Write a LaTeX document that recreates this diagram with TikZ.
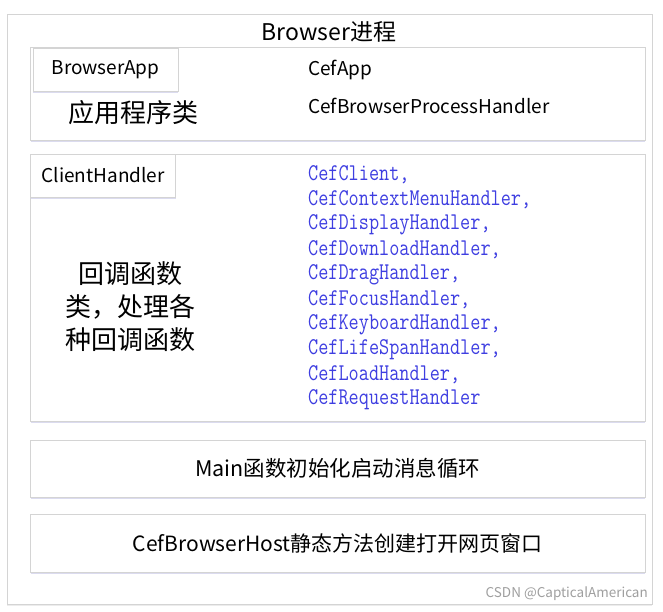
\documentclass[tikz,border=0pt]{standalone}
\usepackage{fontspec}
\setmainfont{Noto Sans CJK SC}
\newfontfamily\codefont{Latin Modern Mono}[FakeStretch=0.82]
\usetikzlibrary{positioning,shadows}

\definecolor{edgegray}{RGB}{212,212,212}
\definecolor{codeblue}{RGB}{62,62,225}
\tikzset{
	panel/.style={draw=edgegray, line width=0.9pt, fill=white,
		drop shadow={opacity=0.2, shadow xshift=0pt, shadow yshift=-2pt, fill=blue!40!gray}},
	tagbox/.style={panel, minimum width=145, minimum height=43},
	label/.style={inner sep=0pt, font=\fontsize{19}{22}\selectfont},
	code/.style={inner sep=0pt, anchor=west, text=codeblue,
		font=\codefont\fontsize{24}{26}\selectfont},
}

\begin{document}
\begin{tikzpicture}[x=1pt, y=-1pt]
	\useasboundingbox (0,0) rectangle (663,612);
	\node[draw=edgegray, line width=0.9pt, minimum width=645, minimum height=590,
		drop shadow={opacity=0.15, shadow xshift=0pt, shadow yshift=-2pt}, fill=white] (outer) at (329.5,309) {};
	\node[inner sep=0pt, font=\fontsize{23}{27}\selectfont] (title) at (329,32) {Browser进程};

	% application class
	\node[panel, minimum width=614.5, minimum height=93] (appbox) at (337.75,93.5) {};
	\node[tagbox] (browserapp) at (105.5,69.5) {};
	\node[label] (browserapptxt) at (browserapp) {BrowserApp};
	\node[label, anchor=west] (cefapp) at (308,70) {CefApp};
	\node[label, anchor=west] (procHandler) at (308,106) {CefBrowserProcessHandler};
	\node[inner sep=0pt, font=\fontsize{26}{30}\selectfont] (appdesc) at (133,113) {应用程序类};

	% callback handlers
	\node[panel, minimum width=614.5, minimum height=267] (clientbox) at (337.75,287.5) {};
	\node[tagbox] (clienthandler) at (103.25,175.5) {};
	\node[label] (clienttxt) at (clienthandler) {ClientHandler};
	\node[inner sep=0pt, align=center, font=\fontsize{26}{33}\selectfont] (clientdesc) at (130,307) {回调函数\\类，处理各\\种回调函数};
	\foreach \name [count=\i from 0] in {{CefClient,},{CefContextMenuHandler,},{CefDisplayHandler,},{CefDownloadHandler,},
		{CefDragHandler,},{CefFocusHandler,},{CefKeyboardHandler,},{CefLifeSpanHandler,},{CefLoadHandler,},{CefRequestHandler}}
		\node[code] (h\i) at (308,175+25*\i) {\name};

	% main loop and browser host
	\node[panel, minimum width=614.5, minimum height=57] (mainbox) at (337.75,468.5) {};
	\node[inner sep=0pt, font=\fontsize{21.5}{25}\selectfont] (maintxt) at (mainbox) {Main函数初始化启动消息循环};
	\node[panel, minimum width=614.5, minimum height=58] (hostbox) at (337.75,543) {};
	\node[inner sep=0pt, font=\fontsize{21}{25}\selectfont] (hosttxt) at (hostbox) {CefBrowserHost静态方法创建打开网页窗口};

	\node[inner sep=0pt, anchor=east, text=gray!75, font=\fontsize{13.5}{16}\selectfont] (mark) at (648,594) {CSDN @CapticalAmerican};
\end{tikzpicture}
\end{document}
